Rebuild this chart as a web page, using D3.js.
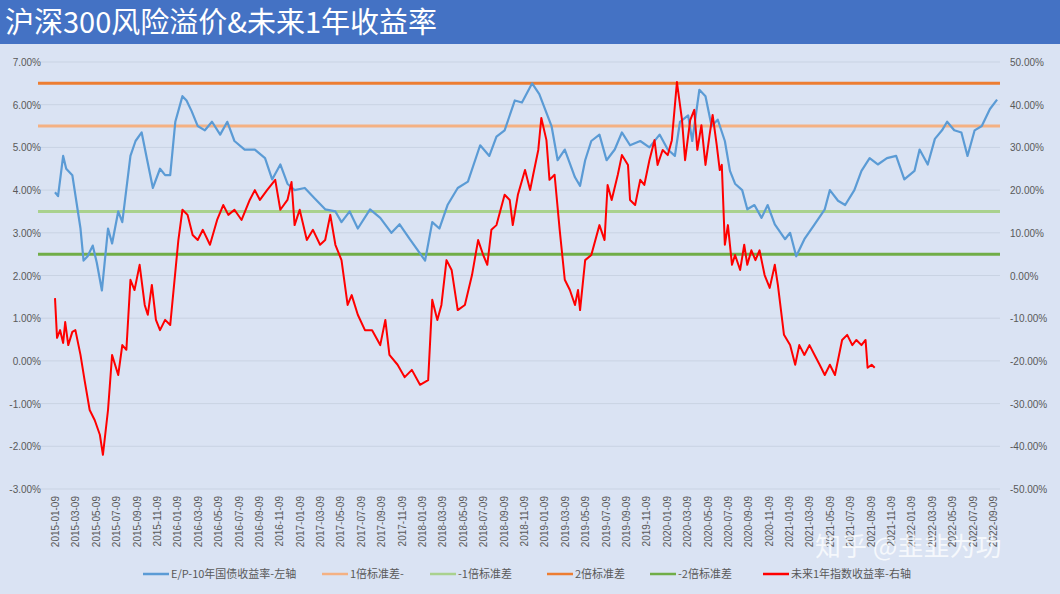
<!DOCTYPE html>
<html><head><meta charset="utf-8">
<script src="https://cdn.jsdelivr.net/npm/d3@7"></script>
<style>
body{margin:0;background:#dae3f3;font-family:"Noto Sans CJK SC","Liberation Sans",sans-serif;}
</style></head><body><svg id="c" width="1060" height="594"></svg>
<script>
// 월 오프셋(2015-01-09 기준) / 값
var epM = [0,0.3,0.8,1.1,1.7,2.5,2.8,3.2,3.7,4.1,4.6,5.2,5.6,6.2,6.6,7.4,7.9,8.5,9.0,9.6,10.3,10.8,11.3,11.8,12.5,12.9,13.4,14.0,14.7,15.4,16.2,16.9,17.6,18.6,19.6,20.6,21.3,22.1,22.8,23.5,24.5,25.5,26.5,27.5,28.1,28.9,29.7,30.9,31.9,33.0,33.8,34.8,36.3,37.0,37.7,38.5,39.5,40.5,41.7,42.6,43.3,44.1,45.1,45.8,46.8,47.5,48.7,49.3,50.0,51.0,51.5,52.0,52.6,53.4,54.1,54.9,55.6,56.4,57.4,58.3,59.3,60.1,60.8,61.3,62.1,62.5,63.2,63.8,64.4,65.0,65.7,66.2,66.7,67.4,67.9,68.6,69.3,69.9,70.6,71.6,72.1,72.7,73.5,74.5,75.5,76.0,76.8,77.5,78.4,79.1,79.9,80.7,81.6,82.5,83.3,84.3,84.8,85.6,86.3,87.0,87.5,88.2,88.9,89.5,90.2,90.9,91.7,92.4];
var epV = [3.95,3.86,4.8,4.5,4.35,3.1,2.35,2.45,2.7,2.3,1.65,3.1,2.75,3.5,3.25,4.8,5.15,5.35,4.75,4.05,4.5,4.35,4.35,5.6,6.2,6.1,5.85,5.5,5.4,5.6,5.3,5.6,5.15,4.95,4.95,4.75,4.25,4.6,4.15,4.0,4.05,3.8,3.55,3.5,3.25,3.5,3.1,3.55,3.35,3.0,3.2,2.85,2.35,3.25,3.1,3.65,4.05,4.2,5.05,4.8,5.25,5.4,6.1,6.05,6.5,6.25,5.5,4.7,4.95,4.3,4.1,4.7,5.15,5.3,4.7,4.95,5.35,5.05,5.15,5.0,5.3,4.95,4.8,5.6,5.75,5.15,6.35,6.2,5.5,5.65,5.15,4.45,4.15,4.0,3.55,3.65,3.35,3.65,3.2,2.85,3.0,2.45,2.85,3.2,3.55,4.0,3.75,3.65,4.0,4.45,4.75,4.6,4.75,4.8,4.25,4.45,4.95,4.6,5.2,5.4,5.6,5.4,5.35,4.8,5.4,5.5,5.9,6.12];
var retM = [0,0.2,0.5,0.8,1.0,1.3,1.7,2.0,2.5,2.9,3.4,3.9,4.4,4.7,5.2,5.6,6.2,6.6,7.0,7.4,7.8,8.3,8.8,9.1,9.5,9.9,10.3,10.8,11.3,12.1,12.5,13.0,13.5,14.0,14.5,15.2,15.9,16.5,17.0,17.6,18.3,19.1,19.6,20.1,20.8,21.6,22.1,22.8,23.2,23.5,24.0,24.7,25.3,26.0,26.5,27.0,27.5,28.1,28.7,29.1,29.7,30.4,31.1,31.9,32.4,32.8,33.6,34.3,35.0,35.8,36.6,37.0,37.5,37.9,38.4,38.9,39.5,40.2,40.9,41.5,42.0,42.4,42.8,43.3,44.1,44.6,44.9,45.4,46.1,46.6,46.9,47.4,47.7,48.2,48.5,49.0,49.5,50.0,50.5,51.0,51.3,51.5,52.0,52.6,53.4,53.9,54.2,54.6,55.2,55.6,56.2,56.4,56.9,57.4,57.8,58.3,58.8,59.1,59.6,60.1,60.5,61.0,61.5,61.8,62.3,62.7,63.0,63.4,63.8,64.2,64.5,64.9,65.2,65.4,65.7,66.0,66.4,66.7,67.2,67.6,67.9,68.3,68.7,69.1,69.6,70.1,70.6,70.9,71.5,72.1,72.6,73.0,73.5,74.0,74.5,75.0,75.5,76.0,76.5,77.2,77.7,78.2,78.6,79.1,79.5,79.7,80.1,80.4];
var retV = [-5.3,-14.6,-12.8,-15.8,-10.9,-16.3,-13.2,-12.8,-18.6,-24.5,-31.5,-33.9,-37.3,-42,-31.5,-18.6,-23.3,-16.3,-17.4,-1.0,-3.4,2.5,-6.9,-9.2,-2.2,-10.4,-12.8,-10.4,-11.6,8.3,15.4,14.2,9.5,8.3,10.7,7.2,13.0,16.5,14.2,15.4,13.0,17.7,20,17.7,20,22.4,15.4,17.7,21.9,11.8,15.4,8.3,10.7,7.2,8.3,14.2,7.2,3.6,-6.9,-4.6,-9.2,-12.8,-12.8,-16.3,-10.4,-18.6,-20.9,-23.8,-22.1,-25.6,-24.5,-5.7,-10.4,-6.9,3.6,1.3,-8.1,-6.9,0.1,8.3,4.8,2.5,10.7,11.8,18.9,17.7,11.8,18.9,24.7,20,23.6,29.4,36.9,31.7,22.4,23.6,10.7,-1.0,-3.4,-6.9,-3.4,-8.1,3.6,4.8,11.8,8.3,21.2,17.7,23.6,28.2,25.9,17.7,16.5,22.4,21.2,27.0,31.7,25.9,29.4,28.2,31.7,45.3,36.4,27.0,36.4,38.8,29.4,35.2,25.9,32.9,37.6,30.6,24.7,25.9,7.2,11.8,2.5,4.8,1.3,7.2,2.5,5.9,3.6,5.9,0.1,-2.9,2.5,-2.2,-13.9,-16.3,-20.9,-16.3,-18.6,-16.3,-18.6,-20.9,-23.3,-20.9,-23.3,-15.1,-13.9,-16.3,-15.1,-16.3,-15.1,-21.6,-20.9,-21.6];
// 표준차 기준선(좌축)
var bands = [
  { name: "1倍标准差-", v: 5.5, c: "#f4b183", w: 3 },
  { name: "-1倍标准差", v: 3.5, c: "#a9d18e", w: 3 },
  { name: "2倍标准差", v: 6.5, c: "#ed7d31", w: 3 },
  { name: "-2倍标准差", v: 2.5, c: "#70ad47", w: 3 }
];
var leftTicks = d3.range(-3, 7.01, 1);
var rightTicks = d3.range(-50, 50.01, 10);
var tickMonths = d3.range(0, 93, 2);

var svg = d3.select("#c");
svg.append("rect").attr("width", 1060).attr("height", 594).attr("fill", "#dae3f3");
svg.append("rect").attr("width", 1060).attr("height", 44).attr("fill", "#4472c4");
svg.append("text").attr("x", 5).attr("y", 33).attr("fill", "#fff").attr("font-size", 29).text("沪深300风险溢价&未来1年收益率");

var x = d3.scaleLinear().domain([0, 92]).range([55, 993]);
var yL = d3.scaleLinear().domain([-3, 7]).range([489, 62]);
var yR = d3.scaleLinear().domain([-50, 50]).range([489, 62]);
var X0 = 38, X1 = 1000;

var g = svg.append("g");
g.selectAll(".grid").data(leftTicks).join("line")
  .attr("x1", X0).attr("x2", X1).attr("y1", yL).attr("y2", yL)
  .attr("stroke", "#c9d3e3").attr("stroke-width", 1);

var fmtL = function (d) { return d.toFixed(2) + "%"; };
g.selectAll(".lt").data(leftTicks).join("text")
  .attr("x", 41).attr("y", function (d) { return yL(d) + 4; }).attr("text-anchor", "end")
  .attr("font-size", 10).attr("fill", "#595959").attr("font-family", "Liberation Sans").text(fmtL);
g.selectAll(".rt").data(rightTicks).join("text")
  .attr("x", 1010).attr("y", function (d) { return yR(d) + 4; })
  .attr("font-size", 10).attr("fill", "#595959").attr("font-family", "Liberation Sans").text(fmtL);

var fmtD = d3.timeFormat("%Y-%m-%d");
g.selectAll(".xt").data(tickMonths).join("text")
  .attr("transform", function (d) { return "translate(" + (x(d) + 4) + ",496) rotate(-90)"; })
  .attr("text-anchor", "end").attr("font-size", 10).attr("fill", "#595959").attr("font-family", "Liberation Sans")
  .text(function (d) { return fmtD(d3.timeMonth.offset(new Date(2015, 0, 9), d)); });

bands.forEach(function (b) {
  g.append("line").attr("x1", X0).attr("x2", X1).attr("y1", yL(b.v)).attr("y2", yL(b.v))
    .attr("stroke", b.c).attr("stroke-width", b.w);
});

var lineL = d3.line().x(function (d) { return x(d[0]); }).y(function (d) { return yL(d[1]); });
var lineR = d3.line().x(function (d) { return x(d[0]); }).y(function (d) { return yR(d[1]); });
g.append("path").attr("d", lineL(d3.zip(epM, epV))).attr("fill", "none").attr("stroke", "#5b9bd5").attr("stroke-width", 2.2).attr("stroke-linejoin", "round");
g.append("path").attr("d", lineR(d3.zip(retM, retV))).attr("fill", "none").attr("stroke", "#ff0000").attr("stroke-width", 2).attr("stroke-linejoin", "round");

// 범례
var legend = [
  { name: "E/P-10年国债收益率-左轴", c: "#5b9bd5", x: 143 },
  { name: bands[0].name, c: bands[0].c, x: 322 },
  { name: bands[1].name, c: bands[1].c, x: 430 },
  { name: bands[2].name, c: bands[2].c, x: 547 },
  { name: bands[3].name, c: bands[3].c, x: 650 },
  { name: "未来1年指数收益率-右轴", c: "#ff0000", x: 763 }
];
var lg = svg.append("g").selectAll("g").data(legend).join("g");
lg.append("line").attr("x1", function (d) { return d.x; }).attr("x2", function (d) { return d.x + 26; })
  .attr("y1", 574).attr("y2", 574).attr("stroke", function (d) { return d.c; }).attr("stroke-width", 2.5);
lg.append("text").attr("x", function (d) { return d.x + 28; }).attr("y", 578)
  .attr("font-size", 11).attr("fill", "#595959").text(function (d) { return d.name; });

svg.append("text").attr("x", 815).attr("y", 556).attr("font-size", 26).attr("fill", "#ffffff").attr("opacity", 0.75)
  .text("知乎 @韭韭为功");
</script></body></html>
